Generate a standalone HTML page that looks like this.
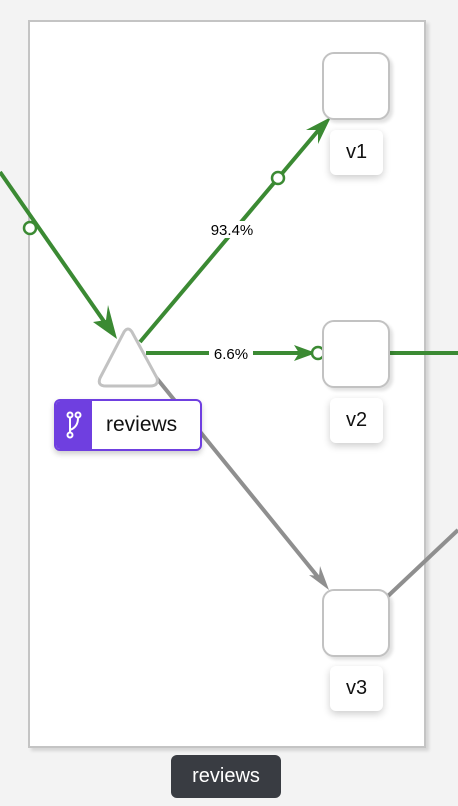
<!DOCTYPE html>
<html><head><style>
body{margin:0;width:458px;height:806px;background:#f3f3f3;position:relative;overflow:hidden;font-family:"Liberation Sans",sans-serif}
.box{position:absolute;left:28px;top:20px;width:394px;height:724px;background:#fff;border:2px solid #c4c4c4;box-shadow:3px 3px 3px rgba(0,0,0,.12)}
.sq{position:absolute;left:322px;width:64px;height:64px;border:2px solid #c2c2c2;border-radius:12px;background:#fff;box-shadow:3px 3px 3px rgba(0,0,0,.12)}
.lb{position:absolute;left:330px;width:53px;height:45px;background:#fff;border-radius:6px;box-shadow:0 3px 8px rgba(0,0,0,.2);font-size:20px;text-align:center;line-height:45px;color:#111}
</style></head><body>
<div class="box"></div>
<svg width="458" height="806" style="position:absolute;left:0;top:0">
<g stroke="#3b8a33" stroke-width="4" fill="none">
<line x1="0" y1="172" x2="110" y2="330"/>
<line x1="140" y1="342" x2="322" y2="126"/>
<line x1="146" y1="353" x2="312" y2="353"/>
<line x1="390" y1="353" x2="458" y2="353"/>
</g>
<g stroke="#8f8f8f" stroke-width="4" fill="none">
<line x1="150" y1="370" x2="322" y2="582"/>
<line x1="388" y1="596" x2="458" y2="530"/>
</g>
<g fill="#3b8a33">
<polygon points="117,339 93,322 106,320 108,305"/>
<polygon points="331,117 306,130 318,130 318,144"/>
<polygon points="316,353 294,345 299,353 294,361"/>
</g>
<polygon fill="#8f8f8f" points="329,590 309,575 319,576 320,566"/>
<g fill="#fff" stroke="#3b8a33" stroke-width="2.5">
<circle cx="30" cy="228" r="6"/><circle cx="278" cy="178" r="6"/><circle cx="318" cy="353" r="6"/>
</g>
<rect x="203" y="221" width="58" height="17" fill="#fff"/>
<text x="232" y="235" font-size="15" text-anchor="middle" font-family="Liberation Sans">93.4%</text>
<rect x="209" y="345" width="44" height="16" fill="#fff"/>
<text x="231" y="359" font-size="15" text-anchor="middle" font-family="Liberation Sans">6.6%</text>
<path d="M124 332 Q128 326 132 332 L157 378 Q159 386 150 386 L106 386 Q97 386 100 378 Z" fill="#fff" stroke="#c2c2c2" stroke-width="3"/>
</svg>
<div class="sq" style="top:52px"></div>
<div class="sq" style="top:320px"></div>
<div class="sq" style="top:589px"></div>
<div class="lb" style="top:130px">v1</div>
<div class="lb" style="top:398px">v2</div>
<div class="lb" style="top:666px">v3</div>
<div style="position:absolute;left:54px;top:399px;width:144px;height:48px;border:2px solid #6f3fe0;border-radius:6px;background:#fff;box-shadow:0 3px 6px rgba(0,0,0,.2);overflow:hidden">
<div style="position:absolute;left:0;top:0;width:36px;height:48px;background:#6f3fe0"></div>
<svg style="position:absolute;left:8px;top:10px" width="20" height="28"><g stroke="#fff" stroke-width="2" fill="none"><circle cx="6" cy="4" r="2.5"/><circle cx="14" cy="4" r="2.5"/><circle cx="6" cy="24" r="2.5"/><line x1="6" y1="7" x2="6" y2="21"/><path d="M14 7 Q14 16 6 19"/></g></svg>
<div style="position:absolute;left:50px;top:0;line-height:48px;font-size:21px;color:#111">reviews</div>
</div>
<div style="position:absolute;left:171px;top:755px;width:110px;height:43px;background:#393c42;border-radius:6px;color:#fff;font-size:20px;text-align:center;line-height:43px">reviews</div>
</body></html>
